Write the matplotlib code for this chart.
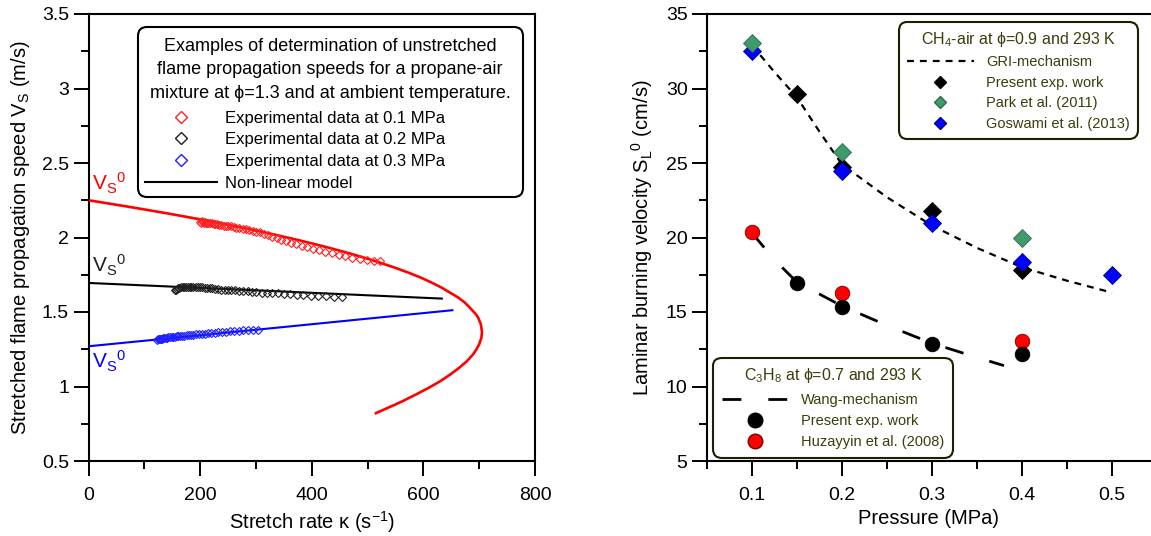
import matplotlib
matplotlib.use("Agg")
import matplotlib.pyplot as plt
from matplotlib.lines import Line2D
from matplotlib.patches import FancyBboxPatch
from matplotlib.ticker import MultipleLocator, FuncFormatter
from matplotlib.transforms import IdentityTransform

plt.rcParams['font.family'] = ['Liberation Sans', 'DejaVu Sans']
plt.rcParams['mathtext.fontset'] = 'custom'
plt.rcParams['mathtext.rm'] = 'Liberation Sans'
plt.rcParams['mathtext.it'] = 'Liberation Sans:italic'
plt.rcParams['mathtext.bf'] = 'Liberation Sans:bold'

# ---------------- Left panel data ----------------
# Non-linear model curves (stretch rate, flame speed)
red_model_k = [0, 74, 144, 210, 270, 327, 379, 427, 471, 511, 547, 572, 594, 614, 632,
               662, 674, 683, 694, 698, 703, 705, 704, 700, 695, 689, 678, 664, 648,
               630, 609, 586, 562, 549, 515]
red_model_v = [2.25, 2.205, 2.16, 2.115, 2.07, 2.025, 1.98, 1.935, 1.89, 1.845, 1.80,
               1.766, 1.733, 1.699, 1.665, 1.598, 1.564, 1.53, 1.485, 1.463, 1.418,
               1.365, 1.328, 1.283, 1.249, 1.215, 1.17, 1.125, 1.08, 1.035, 0.99,
               0.945, 0.90, 0.878, 0.821]
black_model_k = [0, 315, 633]
black_model_v = [1.695, 1.643, 1.59]
blue_model_k = [0, 325, 652]
blue_model_v = [1.27, 1.39, 1.512]

# Experimental data
red_k = [199, 201, 203, 205, 207, 209, 211, 213, 215, 218, 221, 224, 227, 230, 234, 238,
         242, 246, 250, 255, 260, 265, 270, 276, 282, 288, 294, 300, 307, 314, 321, 329,
         337, 345, 354, 363, 372, 382, 392, 402, 413, 424, 436, 448, 460, 473, 486, 499,
         512, 522]
red_v = [2.105, 2.10, 2.11, 2.105, 2.10, 2.105, 2.10, 2.10, 2.095, 2.10, 2.095, 2.09,
         2.09, 2.09, 2.085, 2.085, 2.08, 2.08, 2.075, 2.075, 2.07, 2.065, 2.065, 2.06,
         2.055, 2.05, 2.045, 2.04, 2.035, 2.025, 2.015, 2.005, 1.995, 1.985, 1.975,
         1.965, 1.955, 1.945, 1.935, 1.925, 1.915, 1.905, 1.895, 1.885, 1.875, 1.865,
         1.855, 1.85, 1.845, 1.845]
black_k = [155, 157, 159, 161, 163, 166, 169, 172, 175, 178, 181, 184, 188, 192, 196,
           200, 204, 208, 212, 217, 222, 227, 232, 238, 244, 250, 256, 263, 270, 277,
           285, 293, 301, 310, 319, 329, 339, 350, 361, 373, 385, 398, 411, 425, 440, 454]
black_v = [1.645, 1.65, 1.655, 1.66, 1.66, 1.665, 1.665, 1.665, 1.67, 1.67, 1.67, 1.67,
           1.665, 1.67, 1.665, 1.665, 1.665, 1.66, 1.66, 1.66, 1.66, 1.655, 1.655, 1.65,
           1.65, 1.645, 1.645, 1.645, 1.64, 1.64, 1.64, 1.635, 1.635, 1.63, 1.63, 1.625,
           1.625, 1.62, 1.62, 1.615, 1.615, 1.61, 1.61, 1.605, 1.60, 1.60]
blue_k = [122, 124, 126, 128, 130, 132, 134, 136, 138, 140, 143, 146, 149, 152, 155, 158,
          161, 164, 168, 172, 176, 180, 184, 188, 193, 198, 203, 208, 214, 220, 226, 232,
          239, 246, 253, 261, 269, 277, 286, 295, 304]
blue_v = [1.312, 1.318, 1.32, 1.318, 1.322, 1.322, 1.325, 1.325, 1.326, 1.328, 1.33, 1.33,
          1.332, 1.334, 1.335, 1.336, 1.338, 1.34, 1.34, 1.342, 1.344, 1.345, 1.347, 1.348,
          1.35, 1.352, 1.354, 1.355, 1.357, 1.36, 1.362, 1.364, 1.366, 1.368, 1.37, 1.372,
          1.374, 1.376, 1.378, 1.38, 1.382]

# ---------------- Right panel data ----------------
gri_p = [0.1, 0.125, 0.15, 0.175, 0.2, 0.25, 0.3, 0.35, 0.4, 0.45, 0.5]
gri_s = [32.9, 31.1, 29.4, 27.1, 24.9, 22.7, 20.8, 19.3, 18.0, 17.1, 16.3]
ch4_present_p = [0.15, 0.2, 0.3, 0.4]
ch4_present_s = [29.6, 24.75, 21.75, 17.85]
park_p = [0.1, 0.2, 0.4]
park_s = [33.05, 25.75, 20.0]
goswami_p = [0.1, 0.2, 0.3, 0.4, 0.5]
goswami_s = [32.5, 24.45, 20.95, 18.35, 17.45]

wang_p = [0.1, 0.125, 0.15, 0.2, 0.25, 0.3, 0.35, 0.38]
wang_s = [20.3, 18.5, 17.0, 15.4, 14.1, 12.9, 11.95, 11.4]
c3h8_present_p = [0.15, 0.2, 0.3, 0.4]
c3h8_present_s = [16.95, 15.35, 12.85, 12.15]
huz_p = [0.1, 0.2, 0.4]
huz_s = [20.35, 16.3, 13.05]

W, H = 1151, 536
fig = plt.figure(figsize=(W / 100, H / 100), dpi=100)


def rect(x0, y0, x1, y1):
    return [x0 / W, 1 - y1 / H, (x1 - x0) / W, (y1 - y0) / H]


ax1 = fig.add_axes(rect(88.5, 14, 535, 461))
ax2 = fig.add_axes(rect(707, 14, 1151, 461))

TICK_FS = 14
LAB_FS = 14.5
for ax in (ax1, ax2):
    for s in ax.spines.values():
        s.set_linewidth(1.5)
    ax.tick_params(which='both', direction='out', width=1.4, labelsize=TICK_FS,
                   top=False, right=False)
    ax.tick_params(which='major', length=11)
    ax.tick_params(which='minor', length=5.5)
    ax.tick_params(axis='x', which='both', pad=8)
    ax.tick_params(axis='y', which='both', pad=3)

# ---------------- Left panel ----------------
ax1.plot(red_model_k, red_model_v, color='#ff0000', lw=1.9, zorder=3)
ax1.plot(black_model_k, black_model_v, color='black', lw=1.5, zorder=3)
ax1.plot(blue_model_k, blue_model_v, color='#0000ff', lw=1.5, zorder=3)
mk = dict(marker='D', ms=3.6, mfc='none', mew=0.8, ls='none', zorder=4)
ax1.plot(red_k, red_v, mec='#ff2020', **mk)
ax1.plot(black_k, black_v, mec='#202020', **mk)
ax1.plot(blue_k, blue_v, mec='#2020ff', **mk)

ax1.set_xlim(0, 800)
ax1.set_ylim(0.5, 3.5)
ax1.xaxis.set_major_locator(MultipleLocator(200))
ax1.xaxis.set_minor_locator(MultipleLocator(100))
ax1.yaxis.set_major_locator(MultipleLocator(0.5))
ax1.yaxis.set_minor_locator(MultipleLocator(0.25))
ax1.yaxis.set_major_formatter(FuncFormatter(lambda v, p: '%g' % v))
ax1.set_xlabel(r'Stretch rate κ (s$^{\mathregular{-1}}$)', fontsize=LAB_FS)
ax1.set_ylabel(r'Stretched flame propagation speed V$_{\mathregular{S}}$ (m/s)',
               fontsize=LAB_FS)
ax1.xaxis.set_label_coords(0.5, -0.108)
ax1.yaxis.set_label_coords(-0.127, 0.5)

vs0 = r'V$_{\mathregular{S}}$$^{\mathregular{0}}$'
ax1.text(6, 2.36, vs0, color='#ff0000', fontsize=15, ha='left', va='center')
ax1.text(6, 1.81, vs0, color='#202020', fontsize=15, ha='left', va='center')
ax1.text(6, 1.17, vs0, color='#0000ff', fontsize=15, ha='left', va='center')

# left legend box drawn in pixel space
box = FancyBboxPatch((138, H - 197), 523 - 138, 197 - 27,
                     boxstyle='round,pad=0,rounding_size=9',
                     transform=IdentityTransform(), fc='white', ec='black', lw=1.5,
                     zorder=5)
fig.add_artist(box)
title_lines = ['Examples of determination of unstretched',
               'flame propagation speeds for a propane-air',
               'mixture at ϕ=1.3 and at ambient temperature.']
for yy, t in zip([46.5, 70, 93.5], title_lines):
    fig.text(330 / W, 1 - yy / H, t, ha='center', va='center', fontsize=13, zorder=6)

h_left = [Line2D([], [], marker='D', ms=6, mfc='none', mec='#ff2020', mew=1, ls='none'),
          Line2D([], [], marker='D', ms=6, mfc='none', mec='#202020', mew=1, ls='none'),
          Line2D([], [], marker='D', ms=6, mfc='none', mec='#2020ff', mew=1, ls='none'),
          Line2D([], [], color='black', lw=1.5)]
l_left = ['Experimental data at 0.1 MPa', 'Experimental data at 0.2 MPa',
          'Experimental data at 0.3 MPa', 'Non-linear model']
legL = fig.legend(h_left, l_left, loc='upper left', bbox_to_anchor=(145 / W, 1 - 110.5 / H),
                  bbox_transform=fig.transFigure, frameon=False, fontsize=12,
                  handlelength=4.3, handletextpad=0.48, labelspacing=0.4,
                  borderpad=0, borderaxespad=0)
legL.set_zorder(7)

# ---------------- Right panel ----------------
ax2.plot(gri_p, gri_s, color='black', lw=1.6, dashes=(3.1, 2.7), zorder=2)
ax2.plot(wang_p, wang_s, color='black', lw=2.0, dashes=(6.8, 9.7), zorder=2)
dk = dict(marker='D', ms=9.2, ls='none', mew=0.6, zorder=4)
ax2.plot(ch4_present_p, ch4_present_s, mfc='black', mec='black', **dk)
ax2.plot(goswami_p, goswami_s, mfc='#0000ff', mec='#000080', **dk)
ax2.plot(park_p, park_s, mfc='#3f9b6c', mec='#2d6e4d', **dk)
ck = dict(marker='o', ms=10.5, ls='none', mew=0.6, zorder=4)
ax2.plot(huz_p, huz_s, mfc='#ff0000', mec='#800000', **ck)
ax2.plot(c3h8_present_p, c3h8_present_s, mfc='black', mec='black', **ck)

ax2.set_xlim(0.05, 0.05 + (1151 - 707) / 900)
ax2.set_ylim(5, 35)
ax2.set_xticks([0.1, 0.2, 0.3, 0.4, 0.5])
ax2.set_xticks([0.05, 0.15, 0.25, 0.35, 0.45], minor=True)
ax2.xaxis.set_major_formatter(FuncFormatter(lambda v, p: '%.1f' % v))
ax2.yaxis.set_major_locator(MultipleLocator(5))
ax2.yaxis.set_minor_locator(MultipleLocator(2.5))
ax2.spines['right'].set_visible(False)
ax2.set_xlabel('Pressure (MPa)', fontsize=LAB_FS)
ax2.set_ylabel(r'Laminar burning velocity S$_{\mathregular{L}}$$^{\mathregular{0}}$ (cm/s)',
               fontsize=LAB_FS)
ax2.xaxis.set_label_coords(0.5, -0.108)
ax2.yaxis.set_label_coords(-0.117, 0.5)

OLIVE = '#3c3c0c'
EDGE = '#1e1e00'
h_top = [Line2D([], [], color='black', lw=1.6, dashes=(3.1, 2.7)),
         Line2D([], [], marker='D', ms=6, mfc='black', mec='black', ls='none'),
         Line2D([], [], marker='D', ms=6, mfc='#3f9b6c', mec='#2d6e4d', ls='none'),
         Line2D([], [], marker='D', ms=6, mfc='#0000ff', mec='#000080', ls='none')]
l_top = ['GRI-mechanism', 'Present exp. work', 'Park et al. (2011)', 'Goswami et al. (2013)']
legT = ax2.legend(h_top, l_top, loc='upper right', bbox_to_anchor=(1138 / W, 1 - 22 / H),
                  bbox_transform=fig.transFigure, fontsize=10.5,
                  title=r'CH$_{\mathregular{4}}$-air at ϕ=0.9 and 293 K', title_fontsize=11.5,
                  handlelength=4.6, handletextpad=0.85, labelspacing=0.44,
                  borderpad=0.55, borderaxespad=0, labelcolor=OLIVE, fancybox=True,
                  framealpha=1, edgecolor=EDGE)
legT.get_title().set_color(OLIVE)
legT.get_frame().set_linewidth(1.5)
legT.get_frame().set_boxstyle('round', pad=0, rounding_size=0.6)
ax2.add_artist(legT)

h_bot = [Line2D([], [], color='black', lw=2.0, dashes=(6.8, 9.7)),
         Line2D([], [], marker='o', ms=10.5, mfc='black', mec='black', ls='none'),
         Line2D([], [], marker='o', ms=10.5, mfc='#ff0000', mec='#800000', ls='none')]
l_bot = ['Wang-mechanism', 'Present exp. work', 'Huzayyin et al. (2008)']
legB = ax2.legend(h_bot, l_bot, loc='lower left', bbox_to_anchor=(713 / W, 1 - 458 / H),
                  bbox_transform=fig.transFigure, fontsize=10.5,
                  title=r'C$_{\mathregular{3}}$H$_{\mathregular{8}}$ at ϕ=0.7 and 293 K',
                  title_fontsize=11.5, handlelength=4.6, handletextpad=0.85,
                  labelspacing=0.5, borderpad=0.6, borderaxespad=0, labelcolor=OLIVE,
                  fancybox=True, framealpha=1, edgecolor=EDGE)
legB.get_title().set_color(OLIVE)
legB.get_frame().set_linewidth(1.5)
legB.get_frame().set_boxstyle('round', pad=0, rounding_size=0.6)

fig.savefig('out.png', dpi=100)
